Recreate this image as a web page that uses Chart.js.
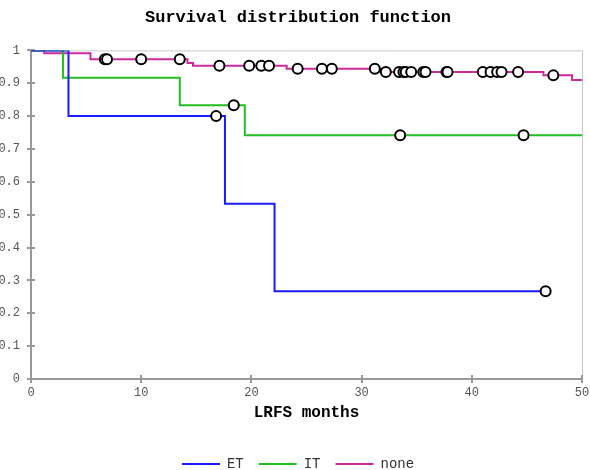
<!DOCTYPE html>
<html>
<head>
<meta charset="utf-8">
<script src="https://cdn.jsdelivr.net/npm/chart.js@4.4.1/dist/chart.umd.min.js"></script>
<style>
  html, body { margin: 0; padding: 0; background: #fff; overflow: hidden; }
  #wrap { position: absolute; left: -6px; top: 0; width: 612px; height: 481px; }
</style>
</head>
<body>
<div id="wrap"><canvas id="km" width="612" height="481"></canvas></div>
<script>
// step curves: time where the value changes, and the value after it
const etTimes = [0, 3.4, 17.6, 22.1, 46.7];
const etSurv = [1, 0.8, 0.533, 0.267, 0.267];
const etCensor = [16.8, 46.7];

const itTimes = [0, 2.9, 13.5, 19.4, 50];
const itSurv = [1, 0.917, 0.833, 0.742, 0.742];
const itCensor = [18.4, 33.5, 44.7];

const noneTimes = [0, 1.2, 5.4, 14.2, 14.7, 23.2, 31.7, 46.5, 49.1, 50];
const noneSurv = [1, 0.991, 0.973, 0.962, 0.953, 0.944, 0.934, 0.924, 0.910, 0.910];
const noneCensor = [6.7, 6.9, 10.0, 13.5, 17.1, 19.8, 20.9, 21.6, 24.2, 26.4, 27.3,
  31.2, 32.2, 33.4, 33.8, 34.0, 34.5, 35.6, 35.8, 37.7, 37.8, 41.0, 41.7, 42.3, 42.7, 44.2, 47.4];

const xTicks = [0, 10, 20, 30, 40, 50];
const yTicks = [0, 0.1, 0.2, 0.3, 0.4, 0.5, 0.6, 0.7, 0.8, 0.9, 1];

const MONO = '"Liberation Mono", "Courier New", monospace';
const AXIS = '#999';

function steps(times, vals) {
  return times.map((t, i) => ({ x: t, y: vals[i] }));
}
function survAt(times, vals, t) {
  let v = vals[0];
  times.forEach((tt, i) => { if (tt <= t) v = vals[i]; });
  return v;
}
function censorPts(times, vals, cens) {
  return cens.map(t => ({ x: t, y: survAt(times, vals, t) }));
}

function curve(label, data, color) {
  return {
    type: 'line', label, data,
    borderColor: color, backgroundColor: color,
    borderWidth: 2, stepped: 'before', pointRadius: 0, fill: false, order: 2
  };
}
function marks(data) {
  return {
    type: 'scatter', label: '', data,
    pointRadius: 5, pointHoverRadius: 5,
    pointBackgroundColor: '#fff', pointBorderColor: '#000', pointBorderWidth: 2,
    order: 1
  };
}

// axis frame with ticks crossing the axis lines
const frame = {
  id: 'frame',
  beforeDatasetsDraw(chart) {
    const { ctx, chartArea: a, scales: { x, y } } = chart;
    ctx.save();
    ctx.strokeStyle = '#c8c8c8';
    ctx.lineWidth = 1;
    ctx.beginPath();
    ctx.moveTo(a.left, a.top + 0.5); ctx.lineTo(a.right + 0.5, a.top + 0.5);
    ctx.lineTo(a.right + 0.5, a.bottom);
    ctx.stroke();
    ctx.strokeStyle = AXIS;
    ctx.lineWidth = 2;
    ctx.beginPath();
    ctx.moveTo(a.left, a.top); ctx.lineTo(a.left, a.bottom); ctx.lineTo(a.right + 1, a.bottom);
    yTicks.forEach(v => {
      const py = Math.round(y.getPixelForValue(v));
      ctx.moveTo(a.left - 4, py); ctx.lineTo(a.left + 4, py);
    });
    xTicks.forEach(v => {
      const px = Math.round(x.getPixelForValue(v));
      ctx.moveTo(px, a.bottom - 4); ctx.lineTo(px, a.bottom + 4);
    });
    ctx.stroke();
    ctx.restore();
  }
};

const baseLabels = Chart.defaults.plugins.legend.labels.generateLabels;

new Chart(document.getElementById('km'), {
  data: {
    datasets: [
      curve('ET', steps(etTimes, etSurv), '#1a1aff'),
      curve('IT', steps(itTimes, itSurv), '#22bf22'),
      curve('none', steps(noneTimes, noneSurv), '#cc2a9e'),
      marks(censorPts(etTimes, etSurv, etCensor)),
      marks(censorPts(itTimes, itSurv, itCensor)),
      marks(censorPts(noneTimes, noneSurv, noneCensor))
    ]
  },
  options: {
    responsive: false,
    animation: false,
    events: [],
    layout: { padding: { top: 4, right: 4, left: 0, bottom: 0 } },
    plugins: {
      title: {
        display: true,
        text: 'Survival distribution function',
        color: '#000',
        font: { family: MONO, size: 17, weight: 'bold' },
        padding: { top: 4, bottom: 22 }
      },
      legend: {
        position: 'bottom',
        labels: {
          generateLabels: chart => baseLabels(chart)
            .filter(l => l.text !== '')
            .map(l => Object.assign(l, { lineWidth: 0 })),
          color: '#333',
          boxWidth: 38, boxHeight: 2,
          padding: 15,
          font: { family: MONO, size: 14 }
        }
      },
      tooltip: { enabled: false }
    },
    scales: {
      x: {
        type: 'linear', min: 0, max: 50,
        afterBuildTicks: s => { s.ticks = xTicks.map(v => ({ value: v })); },
        grid: { display: false, drawTicks: false },
        border: { display: false },
        ticks: { color: '#555', padding: 7, font: { family: MONO, size: 12 } },
        title: {
          display: true, text: 'LRFS months', color: '#000',
          font: { family: MONO, size: 16, weight: 'bold' },
          padding: { top: 4, bottom: 19 }
        },
        afterFit: s => { s.height = 63; }
      },
      y: {
        min: 0, max: 1,
        afterBuildTicks: s => { s.ticks = yTicks.map(v => ({ value: v })); },
        grid: { display: false, drawTicks: false },
        border: { display: false },
        ticks: {
          color: '#555', padding: 11, font: { family: MONO, size: 12 },
          callback: v => String(Math.round(v * 10) / 10)
        },
        afterFit: s => { s.width = 37; }
      },
      // empty right-hand spacer so title and legend sit centred like the original
      y2: {
        position: 'right', min: 0, max: 1,
        grid: { display: false, drawTicks: false },
        border: { display: false },
        ticks: { display: false },
        afterFit: s => { s.width = 20; }
      }
    }
  },
  plugins: [frame]
});
</script>
</body>
</html>
